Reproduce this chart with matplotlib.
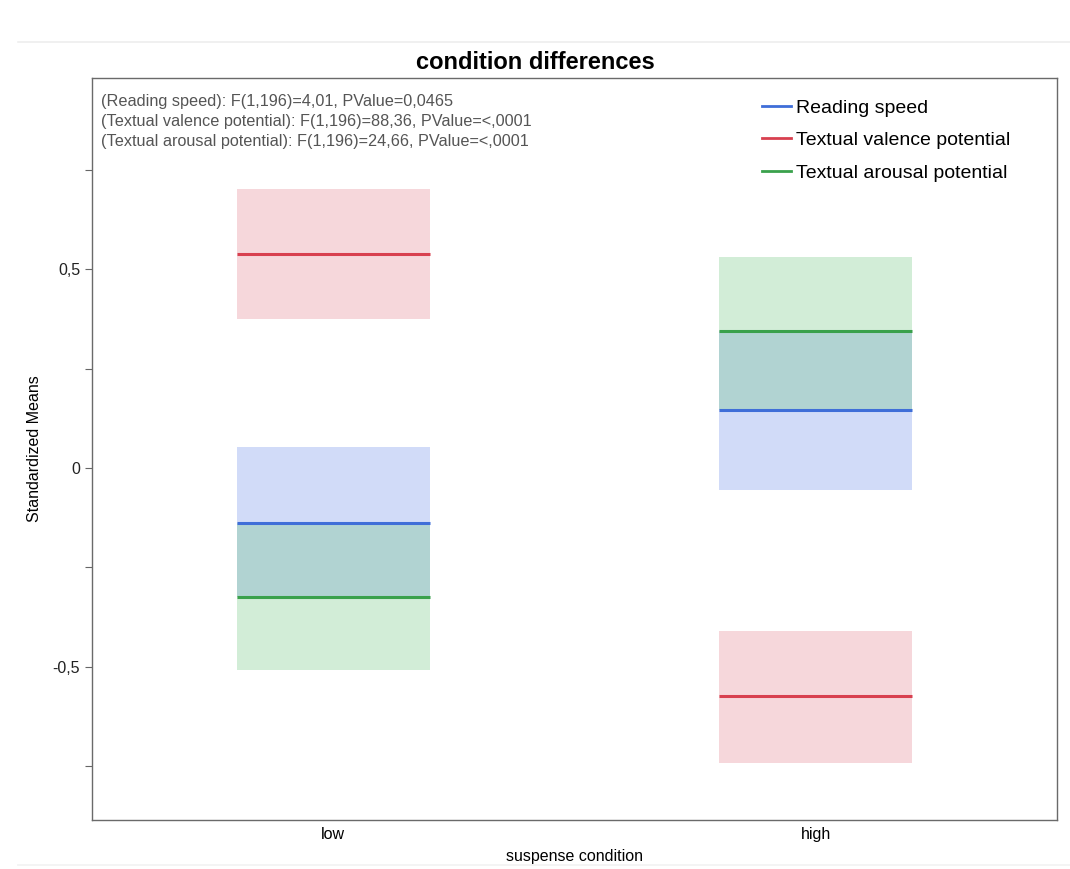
import numpy as np
import matplotlib.pyplot as plt
from matplotlib.lines import Line2D

plt.rcParams['font.family'] = ['Liberation Sans', 'DejaVu Sans']

# condition categories
conditions = ["low", "high"]

# standardized means and band limits per measure
reading_mean = [-0.138, 0.146]
reading_lo = [-0.325, -0.055]
reading_hi = [0.053, 0.345]

valence_mean = [0.538, -0.574]
valence_lo = [0.375, -0.742]
valence_hi = [0.702, -0.410]

arousal_mean = [-0.325, 0.345]
arousal_lo = [-0.508, 0.146]
arousal_hi = [-0.138, 0.531]

series_names = ["Reading speed", "Textual valence potential", "Textual arousal potential"]
stats_lines = [
    "(Reading speed): F(1,196)=4,01, PValue=0,0465",
    "(Textual valence potential): F(1,196)=88,36, PValue=<,0001",
    "(Textual arousal potential): F(1,196)=24,66, PValue=<,0001",
]

colors = ["#3f6ed8", "#d8404f", "#3aa14c"]
fills = ["#5b7fe6", "#e0707f", "#5fbf72"]

fig = plt.figure(figsize=(10.7, 8.69), dpi=100)
ax = fig.add_axes([0.086, 0.0564, 0.9019, 0.8538])

x = np.arange(len(conditions))
half = 0.2
series = [
    (reading_mean, reading_lo, reading_hi),
    (valence_mean, valence_lo, valence_hi),
    (arousal_mean, arousal_lo, arousal_hi),
]
for (m, lo, hi), c, fc in zip(series, colors, fills):
    for i in range(len(conditions)):
        ax.fill_between([x[i] - half, x[i] + half], lo[i], hi[i],
                        color=fc, alpha=0.28, linewidth=0)
        ax.plot([x[i] - half, x[i] + half], [m[i], m[i]], color=c, lw=2.2,
                solid_capstyle="butt")

ax.set_xlim(-0.5, 1.5)
ax.set_ylim(-0.886, 0.981)
ax.set_xticks(x)
ax.set_xticklabels(conditions, fontsize=11.5)
ax.tick_params(axis="x", length=0, pad=5)
ax.set_yticks([-0.75, -0.5, -0.25, 0, 0.25, 0.5, 0.75])
ax.set_yticklabels(["", "-0,5", "", "0", "", "0,5", ""], fontsize=11.5)
ax.tick_params(axis="y", length=5, width=0.8, color="#666666", labelcolor="#222222")
for s in ax.spines.values():
    s.set_color("#6a6a6a")
    s.set_linewidth(1.0)

ax.set_xlabel("suspense condition", fontsize=11.5, labelpad=5)
ax.set_ylabel("Standardized Means", fontsize=11.5, labelpad=8)

ax.text(0.009, 0.979, "\n".join(stats_lines), transform=ax.transAxes,
        va="top", ha="left", fontsize=11.7, color="#555555", linespacing=1.45)

handles = [Line2D([0], [0], color=c, lw=2) for c in colors]
ax.legend(handles, series_names, loc="upper right", bbox_to_anchor=(0.97, 0.995),
          frameon=False, fontsize=14, handlelength=1.45, handletextpad=0.3,
          labelspacing=0.76)

fig.suptitle("condition differences", x=0.5, y=0.941, fontsize=17, fontweight="bold")

# faint frame lines of the original screenshot
fig.add_artist(Line2D([0.017, 1.0], [1 - 42 / 869, 1 - 42 / 869],
                      transform=fig.transFigure, color="#eeeeee", lw=1.2))
fig.add_artist(Line2D([0.017, 1.0], [1 - 865 / 869, 1 - 865 / 869],
                      transform=fig.transFigure, color="#f2f2f2", lw=1.2))

fig.savefig("out.png", dpi=100)
